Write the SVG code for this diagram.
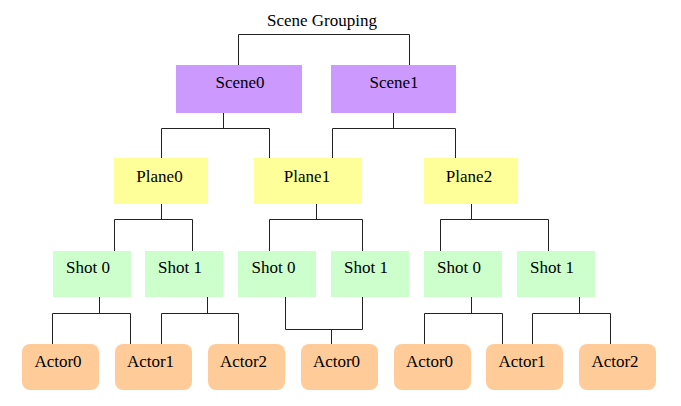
<svg xmlns="http://www.w3.org/2000/svg" width="681" height="406" viewBox="0 0 681 406">
<style>
text{font-family:"Liberation Serif","Times New Roman",serif;font-size:17px;fill:#000;text-anchor:middle}
.scene{fill:#cc99ff}
.plane{fill:#ffff99}
.shot{fill:#ccffcc}
.actor{fill:#ffcc99}
#connectors path{fill:none;stroke:#222;stroke-width:1}
</style>
<rect width="681" height="406" fill="#fff"/>
<g id="root"><text x="322" y="26">Scene Grouping</text></g>
<g id="connectors">
<path d="M238.5 65V34.5H409.5V65"/>
<path d="M223.5 113V128.5M161.5 158V128.5H269.5V158"/>
<path d="M393.5 113V128.5M332.5 158V128.5H455.5V158"/>
<path d="M161.5 204V219.5M114.5 251V219.5H192.5V251"/>
<path d="M316.5 204V219.5M269.5 251V219.5H362.5V251"/>
<path d="M471.5 204V219.5M440.5 251V219.5H548.5V251"/>
<path d="M99.5 297V313.5M52.5 344V313.5H130.5V344"/>
<path d="M207.5 297V313.5M161.5 344V313.5H238.5V344"/>
<path d="M285.5 297V329.5H362.5V297M331.5 329.5V344"/>
<path d="M471.5 297V313.5M424.5 344V313.5H502.5V344"/>
<path d="M579.5 297V313.5M532.5 344V313.5H610.5V344"/>
</g>
<g id="scene0"><rect class="scene" x="176" y="65" width="126" height="48"/><text x="240" y="88">Scene0</text></g>
<g id="scene1"><rect class="scene" x="331" y="65" width="125" height="48"/><text x="394" y="88">Scene1</text></g>
<g id="plane0"><rect class="plane" x="114" y="158" width="94" height="46"/><text x="159.5" y="182">Plane0</text></g>
<g id="plane1"><rect class="plane" x="254" y="158" width="108" height="46"/><text x="307" y="182">Plane1</text></g>
<g id="plane2"><rect class="plane" x="424" y="158" width="94" height="46"/><text x="469" y="182">Plane2</text></g>
<g id="shot0-p0"><rect class="shot" x="53" y="251" width="78" height="46"/><text x="88" y="273">Shot 0</text></g>
<g id="shot1-p0"><rect class="shot" x="145" y="251" width="78" height="46"/><text x="180" y="273">Shot 1</text></g>
<g id="shot0-p1"><rect class="shot" x="238" y="251" width="78" height="46"/><text x="273.5" y="273">Shot 0</text></g>
<g id="shot1-p1"><rect class="shot" x="331" y="251" width="78" height="46"/><text x="366" y="273">Shot 1</text></g>
<g id="shot0-p2"><rect class="shot" x="424" y="251" width="78" height="46"/><text x="459" y="273">Shot 0</text></g>
<g id="shot1-p2"><rect class="shot" x="517" y="251" width="78" height="46"/><text x="552" y="273">Shot 1</text></g>
<g id="actor0-a"><rect class="actor" x="22" y="344" width="77" height="46" rx="8"/><text x="58" y="367">Actor0</text></g>
<g id="actor1-a"><rect class="actor" x="115" y="344" width="77" height="46" rx="8"/><text x="150.5" y="367">Actor1</text></g>
<g id="actor2-a"><rect class="actor" x="208" y="344" width="77" height="46" rx="8"/><text x="243.5" y="367">Actor2</text></g>
<g id="actor0-b"><rect class="actor" x="301" y="344" width="77" height="46" rx="8"/><text x="336.5" y="367">Actor0</text></g>
<g id="actor0-c"><rect class="actor" x="394" y="344" width="77" height="46" rx="8"/><text x="429.5" y="367">Actor0</text></g>
<g id="actor1-c"><rect class="actor" x="486" y="344" width="77" height="46" rx="8"/><text x="522" y="367">Actor1</text></g>
<g id="actor2-c"><rect class="actor" x="579" y="344" width="77" height="46" rx="8"/><text x="615" y="367">Actor2</text></g>
</svg>
